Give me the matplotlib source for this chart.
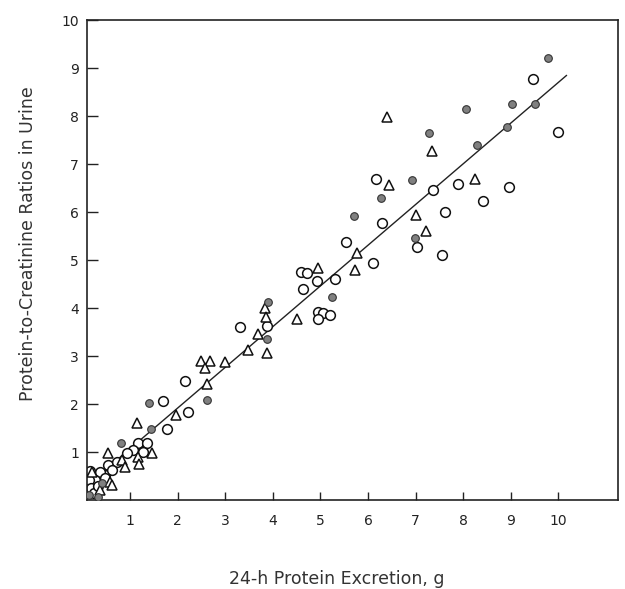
import numpy as np
import matplotlib
matplotlib.use('Agg')
import matplotlib.pyplot as plt

# open circles
open_x = [9.46, 10.0, 6.16, 7.89, 8.96, 7.36, 8.42, 7.62, 6.29, 7.02, 5.53, 7.56,
          6.10, 5.31, 4.64, 4.93, 4.60, 4.72, 4.94, 5.06, 4.96, 5.21,
          3.87, 3.31, 2.16, 2.22, 1.69, 1.77, 1.17, 1.36, 1.06, 1.27, 0.93,
          0.54, 0.73, 0.48, 0.37, 0.26, 0.14, 0.18, 0.24, 0.48, 0.32, 0.15, 0.62]
open_y = [8.77, 7.67, 6.68, 6.58, 6.52, 6.46, 6.24, 6.00, 5.78, 5.27, 5.38, 5.10,
          4.93, 4.60, 4.39, 4.56, 4.75, 4.74, 3.92, 3.90, 3.77, 3.85,
          3.62, 3.60, 2.48, 1.84, 2.06, 1.48, 1.19, 1.19, 1.04, 1.00, 0.98,
          0.73, 0.79, 0.52, 0.58, 0.42, 0.42, 0.25, 0.15, 0.46, 0.30, 0.60, 0.62]

# filled circles
fill_x = [9.78, 9.03, 9.50, 8.92, 8.06, 7.28, 8.29, 6.92, 6.27, 5.70, 6.98,
          5.24, 3.89, 3.87, 2.62, 1.40, 1.44, 0.81, 0.41, 0.14, 0.33]
fill_y = [9.21, 8.25, 8.25, 7.77, 8.15, 7.65, 7.40, 6.67, 6.30, 5.92, 5.45,
          4.22, 4.13, 3.35, 2.08, 2.02, 1.48, 1.19, 0.35, 0.10, 0.06]

# open triangles
tri_x = [6.40, 7.34, 6.44, 8.25, 7.00, 7.22, 5.77, 5.72, 4.95, 4.51,
         3.83, 3.85, 3.69, 3.48, 3.87, 2.50, 2.68, 2.58, 2.99, 2.62,
         1.97, 1.15, 1.47, 1.17, 1.19, 0.54, 0.83, 0.89, 0.58, 0.20, 0.37, 0.62]
tri_y = [7.98, 7.27, 6.56, 6.68, 5.94, 5.61, 5.14, 4.80, 4.83, 3.77,
         4.00, 3.82, 3.45, 3.13, 3.06, 2.90, 2.90, 2.75, 2.88, 2.42,
         1.78, 1.60, 0.98, 0.90, 0.75, 0.98, 0.83, 0.69, 0.38, 0.58, 0.21, 0.31]

# regression line
slope = 0.848
intercept = 0.22
line_x = [0.15, 10.17]

fig = plt.figure(figsize=(6.25, 5.89), dpi=100)
ax = fig.add_axes([0.1395, 0.151, 0.849, 0.815])

lx = np.array(line_x)
ax.plot(lx, slope * lx + intercept, color='#222222', lw=1.0, zorder=1)

ax.plot(open_x, open_y, 'o', ms=7, mfc='white', mec='#111111', mew=1.1, ls='none', zorder=2)
ax.plot(tri_x, tri_y, '^', ms=7.5, mfc='white', mec='#111111', mew=1.1, ls='none', zorder=3)
ax.plot(fill_x, fill_y, 'o', ms=5.5, mfc='#808080', mec='#333333', mew=0.8, ls='none', zorder=4)

ax.set_xlim(0.1, 11.25)
ax.set_ylim(0, 10)
ax.set_xticks(range(1, 11))
ax.set_yticks(range(1, 11))
ax.tick_params(axis='x', direction='in', length=6, width=1, pad=10, labelsize=10, colors='#222222')
ax.tick_params(axis='y', direction='in', length=8, width=1, pad=6, labelsize=10, colors='#222222')
for s in ax.spines.values():
    s.set_linewidth(1.2)
    s.set_color('#222222')

ax.set_ylabel('Protein-to-Creatinine Ratios in Urine', fontsize=12.5, color='#333333')
ax.set_xlabel('24-h Protein Excretion, g', fontsize=12.5, color='#333333')
ax.yaxis.set_label_coords(-0.095, 0.535)
ax.xaxis.set_label_coords(0.47, -0.145)

plt.savefig('out.png', dpi=100)
plt.close()
